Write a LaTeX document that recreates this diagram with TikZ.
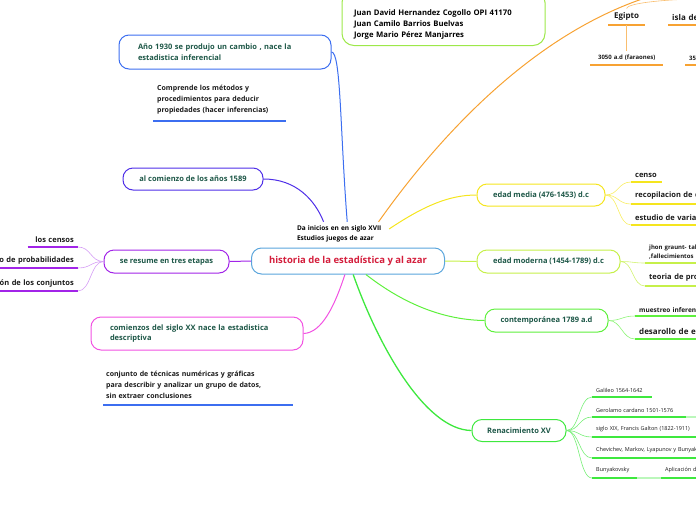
\documentclass[tikz,border=0pt]{standalone}
\usepackage{fontspec}
\setmainfont{Open Sans}
\usetikzlibrary{calc}
\definecolor{CentralBlue}{HTML}{5AA5DC}
\definecolor{CentralRed}{HTML}{D41E3C}
\definecolor{NodeText}{HTML}{1D5747}
\definecolor{LeafText}{HTML}{1A1A1A}
\definecolor{BlueBranch}{HTML}{3C6EF0}
\definecolor{Indigo}{HTML}{4F2FE8}
\definecolor{Purple}{HTML}{A224E8}
\definecolor{Magenta}{HTML}{F252E2}
\definecolor{Orange}{HTML}{F7A232}
\definecolor{Yellow}{HTML}{F5E51E}
\definecolor{Lime}{HTML}{C6F04A}
\definecolor{Green}{HTML}{5EF03C}
\definecolor{RenGreen}{HTML}{3EE83E}
\definecolor{AuthGreen}{HTML}{9DE84A}

\begin{document}
\begin{tikzpicture}[x=1pt,y=-1pt,
    branch/.style={draw,rounded corners=10pt,line width=1pt,fill=white,text=NodeText,
                   font=\fontsize{7.5}{10.5}\selectfont\bfseries,inner sep=0pt,align=center},
    leaf/.style={anchor=south west,text width=#1,inner xsep=4pt,inner ysep=4.5pt,align=left,
                 text=LeafText,font=\fontsize{7.5}{9}\selectfont\bfseries},
    tiny/.style={font=\fontsize{5.5}{7}\selectfont},
    link/.style={line width=1pt},
    twig/.style={line width=0.6pt},
    uline/.style={line width=2pt}]
  \useasboundingbox (0,0) rectangle (696,520);
  \clip (0,0) rectangle (696,520);

  % centre
  \node[branch,draw=CentralBlue,text=CentralRed,font=\fontsize{9.5}{11}\selectfont\bfseries,
        minimum width=193pt,minimum height=26pt] (central) at (348,261) {historia de la estadística y al azar};
  \node[font=\fontsize{6.5}{10}\selectfont\bfseries,text width=88pt,inner xsep=4pt,inner ysep=2pt,
        minimum height=24pt,align=left] (inicio) at (341,234) {Da inicios en en siglo XVII\\Estudios juegos de azar};
  \node[draw=AuthGreen,line width=1pt,rounded corners=12pt,text width=179pt,inner xsep=12pt,
        minimum height=55pt,align=left,font=\fontsize{7.7}{11}\selectfont\bfseries] (autores) at (443.5,18)
        {\mbox{}\\[8pt]Juan David Hernandez Cogollo OPI 41170\\Juan Camilo Barrios Buelvas\\Jorge Mario Pérez Manjarres};

  % left branches
  \node[branch,draw=BlueBranch,minimum width=212pt,minimum height=34pt,text width=174pt,align=left]
        (ano) at (225,52) {Año 1930 se produjo un cambio , nace la\\estadistica inferencial};
  \node[branch,draw=Indigo,minimum width=140pt,minimum height=22pt] (c89) at (193,179) {al comienzo de los años 1589};
  \node[branch,draw=Purple,minimum width=125pt,minimum height=23pt] (resume) at (166.5,261.5) {se resume en tres etapas};
  \node[branch,draw=Magenta,minimum width=212pt,minimum height=33pt,text width=174pt,align=left]
        (desc) at (197,333.5) {comienzos del siglo XX nace la estadistica\\descriptiva};

  \node[leaf=125pt,inner ysep=6.5pt,font=\fontsize{7}{11}\selectfont\bfseries] (metodos) at (153,121)
        {Comprende los métodos y\\procedimientos para deducir\\propiedades (hacer inferencias)};
  \node[leaf=184pt,inner xsep=3pt,inner ysep=6.5pt,font=\fontsize{7}{11}\selectfont\bfseries] (tecnicas) at (103,405)
        {conjunto de técnicas numéricas y gráficas\\para describir y analizar un grupo de datos,\\sin extraer conclusiones};

  \node[leaf=42pt,anchor=south east,align=right,inner ysep=4pt] (censos) at (78,247) {los censos};
  \node[leaf=110pt,anchor=south east,align=right,inner ysep=4pt] (probab) at (78,268) {cálculo de probabilidades};
  \node[leaf=110pt,anchor=south east,align=right,inner ysep=4pt] (conjuntos) at (78,291) {descripción de los conjuntos};

  % right branches
  \node[branch,draw=Yellow,minimum width=128pt,minimum height=22pt] (media) at (541,195) {edad media (476-1453) d.c};
  \node[branch,draw=Lime,minimum width=143pt,minimum height=23pt] (moderna) at (548.5,261.5) {edad moderna (1454-1789) d.c};
  \node[branch,draw=Green,minimum width=123pt,minimum height=23pt] (contemp) at (546.5,320.5) {contemporánea 1789 a.d};
  \node[branch,draw=RenGreen,minimum width=94pt,minimum height=22pt] (renac) at (519,430.5) {Renacimiento XV};

  \node[leaf=23pt] (censo) at (631,182) {censo};
  \node[leaf=140pt] (recop) at (631,204) {recopilacion de datos};
  \node[leaf=140pt] (estud) at (631,225) {estudio de variables};

  \node[leaf=140pt,inner ysep=3.5pt,font=\fontsize{6}{9}\selectfont\bfseries] (graunt) at (645,263)
        {jhon graunt- tablas de\\,fallecimientos};
  \node[leaf=140pt] (teoria) at (645,286) {teoria de probabilidades};

  \node[leaf=140pt,inner ysep=3.5pt,font=\fontsize{6.5}{8}\selectfont\bfseries] (muestreo) at (635,316) {muestreo inferencial};
  \node[leaf=140pt,font=\fontsize{8}{9}\selectfont\bfseries] (desarollo) at (635,339) {desarollo de estadística};

  \node[leaf=52pt,tiny] (galileo) at (592,397) {Galileo 1564-1642};
  \node[leaf=86pt,tiny] (cardano) at (592,417) {Gerolamo cardano 1501-1576};
  \node[leaf=140pt,tiny] (galton) at (592,437) {siglo XIX, Francis Galton (1822-1911)};
  \node[leaf=140pt,tiny] (chev) at (592,458) {Chevichev, Markov, Lyapunov y Bunyakovsky};
  \node[leaf=37pt,tiny] (buny) at (592,478) {Bunyakovsky};
  \node[leaf=100pt,tiny] (aplic) at (661,478) {Aplicación de la probabilidad};
  \coordinate (cardchild) at (700,417);

  % top right
  \node[leaf=29pt,align=center,inner ysep=4pt,font=\fontsize{8}{9}\selectfont\bfseries] (egipto) at (608,25) {Egipto};
  \node[leaf=60pt,inner ysep=4pt,font=\fontsize{8}{9}\selectfont\bfseries] (isla) at (668,25) {isla de Creta};
  \node[leaf=65pt,align=center,inner ysep=4pt,font=\fontsize{6}{8}\selectfont\bfseries] (faraones) at (590,65) {3050 a.d (faraones)};
  \node[leaf=60pt,inner ysep=4pt,font=\fontsize{6}{8}\selectfont\bfseries] (islafecha) at (685,65) {3500 a.d};
  \coordinate (antigua) at (665,-8);
  \coordinate (antiguab) at (702,-1);

  % underlines
  \foreach \n in {metodos,tecnicas} \draw[uline,BlueBranch] (\n.south west) -- (\n.south east);
  \foreach \n in {censos,probab,conjuntos} \draw[uline,Purple] (\n.south west) -- (\n.south east);
  \foreach \n in {censo,recop,estud} \draw[uline,Yellow] (\n.south west) -- (\n.south east);
  \foreach \n in {graunt,teoria} \draw[uline,Lime] (\n.south west) -- (\n.south east);
  \foreach \n in {muestreo,desarollo} \draw[uline,Green] (\n.south west) -- (\n.south east);
  \foreach \n in {galileo,cardano,galton,chev,buny,aplic} \draw[uline,RenGreen] (\n.south west) -- (\n.south east);
  \foreach \n in {egipto,isla,faraones,islafecha} \draw[uline,Orange] (\n.south west) -- (\n.south east);

  % connectors
  \draw[link,BlueBranch] (ano.east) .. controls (341,52) and (340,130) .. (inicio.63);
  \draw[link,Indigo] (c89.east) .. controls (296,179) and (315,200) .. (inicio.145);
  \draw[link,Orange] (inicio.18) .. controls (440,135) and (540,25) .. (antigua);
  \draw[link,Yellow] (inicio.6) .. controls (425,205) and (450,195) .. (media.west);
  \draw[link,Lime] (central.east) -- (moderna.west);
  \draw[link,Green] (central.323) .. controls (405,305) and (445,320) .. (contemp.west);
  \draw[line width=1.3pt,RenGreen] (central.291) .. controls (378,345) and (425,430) .. (renac.west);
  \draw[link,Magenta] (central.257) .. controls (335,305) and (322,333) .. (desc.east);
  \draw[link,Purple] (central.west) -- (resume.east);

  \foreach \n in {censos,probab,conjuntos}
    \draw[twig,Purple!45] (resume.west) .. controls +(-13,0) and +(13,0) .. (\n.south east);
  \foreach \n in {censo,recop,estud}
    \draw[twig,Yellow!70] (media.east) .. controls +(13,0) and +(-13,0) .. (\n.south west);
  \foreach \n in {graunt,teoria}
    \draw[twig,Lime!80] (moderna.east) .. controls +(13,0) and +(-13,0) .. (\n.south west);
  \foreach \n in {muestreo,desarollo}
    \draw[twig,Green!70] (contemp.east) .. controls +(13,0) and +(-13,0) .. (\n.south west);
  \foreach \n in {galileo,cardano,galton,chev,buny}
    \draw[twig,RenGreen!70] (renac.east) .. controls +(13,0) and +(-13,0) .. (\n.south west);
  \draw[uline,RenGreen!35] (cardano.south east) -- (cardchild);
  \draw[uline,RenGreen!35] (buny.south east) -- (aplic.south west);
  \draw[twig,Orange!70] (egipto.south) -- (faraones.north);
  \draw[twig,Orange!70] (egipto.north) .. controls +(0,-6) and +(-30,0) .. (antiguab);
\end{tikzpicture}
\end{document}
